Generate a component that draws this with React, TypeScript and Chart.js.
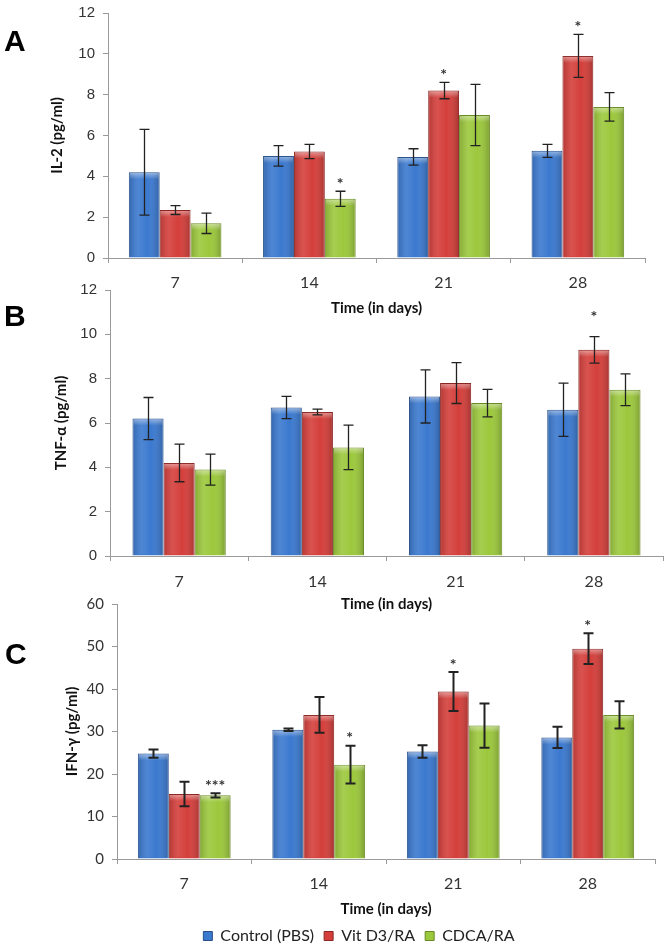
import React, { useEffect, useRef } from "react";
import { Chart, registerables } from "chart.js";

Chart.register(...registerables);

// ---------- data ----------
const days = ["7", "14", "21", "28"];
const seriesNames = ["Control (PBS)", "Vit D3/RA", "CDCA/RA"];

// Panel A: IL-2 (pg/ml)
const il2Control = [4.2, 5.0, 4.95, 5.25];
const il2ControlErr = [2.1, 0.5, 0.4, 0.32];
const il2VitD3 = [2.35, 5.22, 8.2, 9.9];
const il2VitD3Err = [0.22, 0.35, 0.4, 1.05];
const il2Cdca = [1.7, 2.9, 7.0, 7.4];
const il2CdcaErr = [0.5, 0.37, 1.5, 0.7];
const il2ControlStars = ["", "", "", ""];
const il2VitD3Stars = ["", "", "*", "*"];
const il2CdcaStars = ["", "*", "", ""];
const il2Ticks = { max: 12, step: 2 };

// Panel B: TNF-α (pg/ml)
const tnfControl = [6.2, 6.7, 7.2, 6.6];
const tnfControlErr = [0.95, 0.5, 1.2, 1.2];
const tnfVitD3 = [4.2, 6.5, 7.8, 9.3];
const tnfVitD3Err = [0.85, 0.13, 0.92, 0.6];
const tnfCdca = [3.9, 4.9, 6.9, 7.5];
const tnfCdcaErr = [0.7, 1.0, 0.62, 0.72];
const tnfControlStars = ["", "", "", ""];
const tnfVitD3Stars = ["", "", "", "*"];
const tnfCdcaStars = ["", "", "", ""];
const tnfTicks = { max: 12, step: 2 };

// Panel C: IFN-γ (pg/ml)
const ifnControl = [24.8, 30.4, 25.3, 28.6];
const ifnControlErr = [0.95, 0.3, 1.45, 2.5];
const ifnVitD3 = [15.3, 33.9, 39.4, 49.5];
const ifnVitD3Err = [2.9, 4.2, 4.6, 3.6];
const ifnCdca = [15.0, 22.2, 31.4, 33.9];
const ifnCdcaErr = [0.5, 4.45, 5.2, 3.2];
const ifnControlStars = ["", "", "", ""];
const ifnVitD3Stars = ["", "", "*", "*"];
const ifnCdcaStars = ["***", "*", "", ""];
const ifnTicks = { max: 60, step: 10 };

// ---------- styles ----------
const fills = ["#3b79cf", "#d43f3b", "#9cc83c"];
const borders = ["#284f8a", "#8a2522", "#6a8a26"];

const decorPlugin = {
  id: "decor",
  afterDatasetsDraw(chart: any, _args: any, opts: any) {
    const ctx = chart.ctx;
    const yScale = chart.scales.y;
    ctx.save();
    // shading of bars (Excel-like bevel)
    chart.data.datasets.forEach((ds: any, di: number) => {
      const meta = chart.getDatasetMeta(di);
      meta.data.forEach((bar: any) => {
        const p = bar.getProps(["x", "y", "base", "width"], true);
        const left = p.x - p.width / 2;
        const right = p.x + p.width / 2;
        const h = p.base - p.y;
        const g = ctx.createLinearGradient(left, 0, right, 0);
        g.addColorStop(0, "rgba(0,0,0,0.16)");
        g.addColorStop(0.3, "rgba(255,255,255,0.10)");
        g.addColorStop(0.6, "rgba(255,255,255,0)");
        g.addColorStop(1, "rgba(0,0,0,0.22)");
        ctx.fillStyle = g;
        ctx.fillRect(left + 1, p.y + 1, p.width - 2, h - 2);
        const tg = ctx.createLinearGradient(0, p.y, 0, p.y + 7);
        tg.addColorStop(0, "rgba(255,255,255,0.45)");
        tg.addColorStop(1, "rgba(255,255,255,0)");
        ctx.fillStyle = tg;
        ctx.fillRect(left + 1, p.y + 1, p.width - 2, Math.min(7, h - 2));
      });
    });
    // error bars
    ctx.strokeStyle = opts.errColor || "#222";
    ctx.lineWidth = opts.errWidth || 1.3;
    const cap = opts.capWidth || 10;
    chart.data.datasets.forEach((ds: any, di: number) => {
      const meta = chart.getDatasetMeta(di);
      meta.data.forEach((bar: any, i: number) => {
        const v = ds.data[i];
        const e = ds.errors[i];
        const x = Math.round(bar.x) + 0.5;
        const yt = yScale.getPixelForValue(v + e);
        const yb = yScale.getPixelForValue(v - e);
        ctx.beginPath();
        ctx.moveTo(x, yt);
        ctx.lineTo(x, yb);
        ctx.moveTo(x - cap / 2, yt);
        ctx.lineTo(x + cap / 2, yt);
        ctx.moveTo(x - cap / 2, yb);
        ctx.lineTo(x + cap / 2, yb);
        ctx.stroke();
      });
    });
    // significance stars
    ctx.fillStyle = "#333";
    ctx.font = "bold 16px Lato";
    ctx.textAlign = "center";
    ctx.textBaseline = "alphabetic";
    chart.data.datasets.forEach((ds: any, di: number) => {
      const meta = chart.getDatasetMeta(di);
      meta.data.forEach((bar: any, i: number) => {
        const s = ds.stars[i];
        if (!s) return;
        const yt = yScale.getPixelForValue(ds.data[i] + ds.errors[i]);
        ctx.fillText(s, bar.x, yt - (opts.starGap || 11) + 9);
      });
    });
    ctx.restore();
  },
};

type PanelProps = {
  top: number;
  height: number;
  padLeft: number;
  padRight: number;
  yWidth: number;
  xHeight: number;
  tickPad: number;
  yTitle: string;
  yTitlePad: number;
  yMax: number;
  yStep: number;
  yTickFont: any;
  values: number[][];
  errors: number[][];
  stars: string[][];
  starGap: number;
  errWidth: number;
  catPct: number;
  legend: boolean;
};

function Panel(props: PanelProps) {
  const ref = useRef<HTMLCanvasElement | null>(null);
  useEffect(() => {
    if (!ref.current) return;
    const chart = new Chart(ref.current, {
      type: "bar",
      data: {
        labels: days,
        datasets: props.values.map((v, k) => ({
          label: seriesNames[k],
          data: v,
          errors: props.errors[k],
          stars: props.stars[k],
          backgroundColor: fills[k],
          borderColor: borders[k],
          borderWidth: 1,
          categoryPercentage: props.catPct,
          barPercentage: 1,
        })) as any,
      },
      options: {
        animation: false,
        responsive: false,
        maintainAspectRatio: false,
        layout: {
          padding: { top: 12, left: props.padLeft, right: props.padRight, bottom: 0 },
        },
        plugins: {
          tooltip: { enabled: false },
          legend: props.legend
            ? {
                display: true,
                position: "bottom",
                labels: {
                  boxWidth: 9,
                  boxHeight: 9,
                  padding: 10,
                  color: "#222",
                  font: { family: "Lato", size: 16 },
                },
              }
            : { display: false },
          decor: { starGap: props.starGap, errWidth: props.errWidth, capWidth: 10 },
        } as any,
        scales: {
          x: {
            grid: {
              display: true,
              drawOnChartArea: false,
              drawTicks: true,
              tickLength: 5,
              color: "#9a9a9a",
            },
            border: { color: "#9a9a9a" },
            ticks: {
              color: "#333",
              padding: props.tickPad,
              font: { family: "Lato", size: 16 },
            },
            title: {
              display: true,
              text: "Time (in days)",
              color: "#111",
              padding: { top: 0, bottom: 0 },
              font: { family: "Lato", size: 15, weight: "bold" },
            },
            afterFit: (s: any) => {
              s.height = props.xHeight;
            },
          },
          y: {
            min: 0,
            max: props.yMax,
            grid: {
              display: true,
              drawOnChartArea: false,
              drawTicks: true,
              tickLength: 5,
              color: "#9a9a9a",
            },
            border: { color: "#9a9a9a" },
            ticks: {
              stepSize: props.yStep,
              color: "#333",
              padding: 8,
              font: props.yTickFont,
            },
            title: {
              display: true,
              text: props.yTitle,
              color: "#111",
              padding: { top: props.yTitlePad, bottom: 0 },
              font: { family: "Lato", size: 15, weight: "bold" },
            },
            afterFit: (s: any) => {
              s.width = props.yWidth;
            },
          },
        } as any,
      },
      plugins: [decorPlugin as any],
    });
    return () => chart.destroy();
  }, []);
  return (
    <canvas
      ref={ref}
      width={665}
      height={props.height}
      style={{ position: "absolute", left: 0, top: props.top, width: 665, height: props.height }}
    />
  );
}

const letterStyle: React.CSSProperties = {
  position: "absolute",
  left: 4,
  fontFamily: "'Liberation Sans', Arial, sans-serif",
  fontWeight: "bold",
  fontSize: 30,
  lineHeight: "30px",
  color: "#000",
};

export default function App() {
  return (
    <div
      style={{
        position: "absolute",
        left: 0,
        top: 0,
        width: 665,
        height: 946,
        overflow: "hidden",
        background: "#fff",
      }}
    >
      <Panel
        top={-4}
        height={321}
        padLeft={40}
        padRight={20}
        yWidth={68}
        xHeight={59}
        tickPad={10}
        yTitle="IL-2 (pg/ml)"
        yTitlePad={8}
        yMax={il2Ticks.max}
        yStep={il2Ticks.step}
        yTickFont={{ family: "'Liberation Sans'", size: 15 }}
        values={[il2Control, il2VitD3, il2Cdca]}
        errors={[il2ControlErr, il2VitD3Err, il2CdcaErr]}
        stars={[il2ControlStars, il2VitD3Stars, il2CdcaStars]}
        starGap={11}
        errWidth={1.3}
        catPct={0.69}
        legend={false}
      />
      <Panel
        top={273}
        height={340}
        padLeft={40}
        padRight={2}
        yWidth={70}
        xHeight={57}
        tickPad={11}
        yTitle="TNF-α (pg/ml)"
        yTitlePad={12}
        yMax={tnfTicks.max}
        yStep={tnfTicks.step}
        yTickFont={{ family: "'Liberation Sans'", size: 15 }}
        values={[tnfControl, tnfVitD3, tnfCdca]}
        errors={[tnfControlErr, tnfVitD3Err, tnfCdcaErr]}
        stars={[tnfControlStars, tnfVitD3Stars, tnfCdcaStars]}
        starGap={24}
        errWidth={1.3}
        catPct={0.675}
        legend={false}
      />
      <Panel
        top={587}
        height={367}
        padLeft={63}
        padRight={10}
        yWidth={54}
        xHeight={59}
        tickPad={10}
        yTitle="IFN-γ (pg/ml)"
        yTitlePad={0}
        yMax={ifnTicks.max}
        yStep={ifnTicks.step}
        yTickFont={{ family: "Lato", size: 15 }}
        values={[ifnControl, ifnVitD3, ifnCdca]}
        errors={[ifnControlErr, ifnVitD3Err, ifnCdcaErr]}
        stars={[ifnControlStars, ifnVitD3Stars, ifnCdcaStars]}
        starGap={11.5}
        errWidth={2}
        catPct={0.69}
        legend={true}
      />
      <div style={{ ...letterStyle, top: 26 }}>A</div>
      <div style={{ ...letterStyle, top: 301 }}>B</div>
      <div style={{ ...letterStyle, top: 639, left: 5 }}>C</div>
    </div>
  );
}
